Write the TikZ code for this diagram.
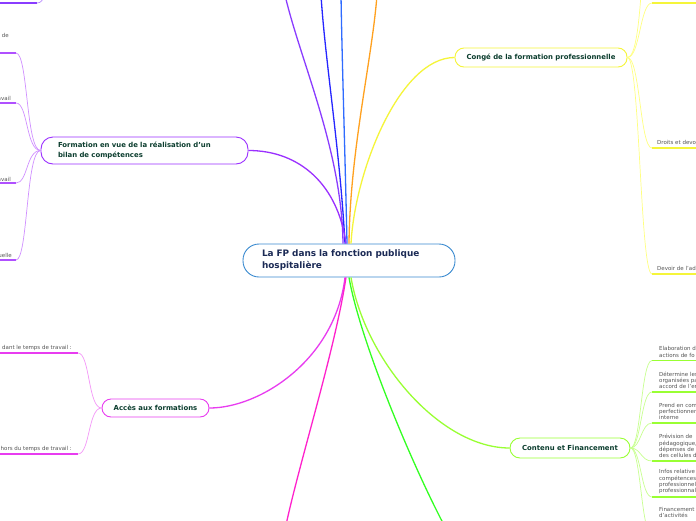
\documentclass[tikz,border=0pt]{standalone}
\usepackage{fontspec}
\setmainfont{DejaVu Sans}
\definecolor{tcol}{HTML}{0B3D2E}
\definecolor{ccol}{HTML}{1B2A55}
\definecolor{subcol}{HTML}{555555}
\definecolor{cborder}{HTML}{3A8AD0}
\definecolor{cpurple}{HTML}{9B30FF}
\definecolor{lpurple}{HTML}{D090FF}
\definecolor{dpurple}{HTML}{B050FF}
\definecolor{cviolet}{HTML}{8A3CFF}
\definecolor{cblue}{HTML}{2626FF}
\definecolor{cblueb}{HTML}{2F6BFF}
\definecolor{corange}{HTML}{FFA11F}
\definecolor{cyellow}{HTML}{F5F53A}
\definecolor{lyellow}{HTML}{FFFF80}
\definecolor{cmag}{HTML}{E83CF0}
\definecolor{lmag}{HTML}{F498F8}
\definecolor{cpink}{HTML}{FF22CC}
\definecolor{cgreen}{HTML}{33FF22}
\definecolor{clime}{HTML}{99FF33}
\definecolor{llime}{HTML}{C8FF90}
\begin{document}
\begin{tikzpicture}[x=1pt,y=-1pt,
  topic/.style={draw, line width=0.9pt, fill=white, font=\bfseries\fontsize{6.9}{9.2}\selectfont, text=tcol, inner sep=0pt},
  subtxt/.style={font=\fontsize{5.5}{6.3}\selectfont, text=subcol, inner sep=0pt, align=left},
  conn/.style={line width=1.3pt},
  uline/.style={line width=1.6pt},
  thin/.style={line width=0.7pt},
]
\clip (0,0) rectangle (696,520);
\fill[white] (0,0) rectangle (696,520);

% nodes
\node[draw=cborder, line width=0.9pt, fill=white, rounded corners=16pt, minimum width=212pt, minimum height=33pt,
  text width=174pt, align=left, inner sep=0pt, font=\bfseries\fontsize{8.9}{12}\selectfont, text=ccol]
  (c) at (349,260.5) {La FP dans la fonction publique\\hospitalière};
\node[topic, draw=cpurple, rounded corners=12pt, minimum width=207pt, minimum height=27pt, text width=173pt, align=left]
  (fm) at (144.5,150.5) {Formation en vue de la réalisation d'un\\bilan de compétences};
\node[topic, draw=cyellow, rounded corners=9pt, minimum width=172pt, minimum height=19pt]
  (cg) at (541,57.5) {Congé de la formation professionnelle};
\node[topic, draw=cmag, rounded corners=9pt, minimum width=107pt, minimum height=18pt]
  (ac) at (155.5,408) {Accès aux formations};
\node[topic, draw=clime, rounded corners=10pt, minimum width=120pt, minimum height=20pt]
  (cf) at (570,448) {Contenu et Financement};

% off-frame ends
\coordinate (t1) at (285,-5);
\coordinate (t2) at (321,-5);
\coordinate (t3) at (341,-5);
\coordinate (t4) at (377,-5);
\coordinate (b1) at (286,525);
\coordinate (b2) at (444,525);

% main connectors
\draw[conn, cviolet] ([xshift=-6pt]c.north) .. controls (342,150) and (300,60) .. (t1);
\draw[conn, cblue] ([xshift=-4pt]c.north) .. controls (340,150) and (325,60) .. (t2);
\draw[conn, cblueb] ([xshift=-2pt]c.north) .. controls (345,150) and (342,60) .. (t3);
\draw[conn, corange] ([xshift=0pt]c.north) .. controls (350,150) and (372,60) .. (t4);
\draw[conn, cyellow] ([xshift=2pt]c.north) .. controls (355,170) and (400,57.5) .. (cg.west);
\draw[conn, cpurple] ([xshift=-3pt]c.north) .. controls (338,185) and (300,150.5) .. (fm.east);
\draw[conn, cmag] ([xshift=-4pt]c.south) .. controls (335,360) and (260,408) .. (ac.east);
\draw[conn, cpink] ([xshift=-3pt]c.south) .. controls (335,350) and (300,460) .. (b1);
\draw[conn, cgreen] ([xshift=0pt]c.south) .. controls (360,340) and (410,460) .. (b2);
\draw[conn, clime] ([xshift=2pt]c.south) .. controls (365,360) and (440,448) .. (cf.west);

% top-left fragment
\coordinate (tl) at (37,3);
\coordinate (tlo) at (45,-6);
\draw[uline, cviolet] (tl) -- ++(-40,0);
\draw[thin, cviolet!60] (tl) .. controls (41,3) and (43,0) .. (tlo);

% Formation children
\foreach \n/\y in {f1/53, f2/103, f3/183, f4/260}{
  \coordinate (\n) at (16,\y);
  \draw[uline, dpurple] (\n) -- ++(-20,0);
  \draw[thin, lpurple] (fm.west) .. controls (26,150.5) and (28,\y) .. (\n);
}
\node[subtxt, anchor=base east] (ft1) at (9,37) {de};
\node[subtxt, anchor=base east] (ft2) at (11,100) {avail};
\node[subtxt, anchor=base east] (ft3) at (11,181) {avail};
\node[subtxt, anchor=base east] (ft4) at (12,257) {uelle};

% Acces children
\foreach \n/\y in {a1/353, a2/454}{
  \coordinate (\n) at (78,\y);
  \draw[uline, cmag] (\n) -- ++(-82,0);
  \draw[thin, lmag] (ac.west) .. controls (88,408) and (90,\y) .. (\n);
}
\node[subtxt, anchor=base east] (at1) at (72,349) {dant le temps de travail :};
\node[subtxt, anchor=base east] (at2) at (72,450) {hors du temps de travail :};

% Conge children
\coordinate (gup) at (641,-5);
\draw[thin, lyellow] (cg.east) .. controls (636,57.5) and (639,20) .. (gup);
\foreach \n/\y in {g1/3, g2/148, g3/274}{
  \coordinate (\n) at (652,\y);
  \draw[uline, cyellow] (\n) -- ++(50,0);
  \draw[thin, lyellow] (cg.east) .. controls (640,57.5) and (640,\y) .. (\n);
}
\node[subtxt, anchor=base west] (gt2) at (657,144) {Droits et devo};
\node[subtxt, anchor=base west] (gt3) at (657,270) {Devoir de l'adr};

% Contenu children
\foreach \n/\y in {k1/360.5, k2/392, k3/423, k4/461, k5/497, k6/535}{
  \coordinate (\n) at (652,\y);
  \draw[uline, clime] (\n) -- ++(50,0);
  \draw[thin, llime] (cf.east) .. controls (641,448) and (641,\y) .. (\n);
}
\node[subtxt, anchor=south west] (kt1) at (659,357.5) {Elaboration d\\actions de fo};
\node[subtxt, anchor=south west] (kt2) at (659,389) {Détermine les\\organisées pa\\accord de l'en};
\node[subtxt, anchor=south west] (kt3) at (659,420) {Prend en com\\perfectionnem\\interne};
\node[subtxt, anchor=south west] (kt4) at (659,458) {Prévision de\\pédagogique,\\dépenses de\\des cellules d};
\node[subtxt, anchor=south west] (kt5) at (659,494) {Infos relative\\compétences\\professionnel\\professionnal};
\node[subtxt, anchor=north west] (kt6) at (659,507) {Financement\\d'activités};
\end{tikzpicture}
\end{document}
